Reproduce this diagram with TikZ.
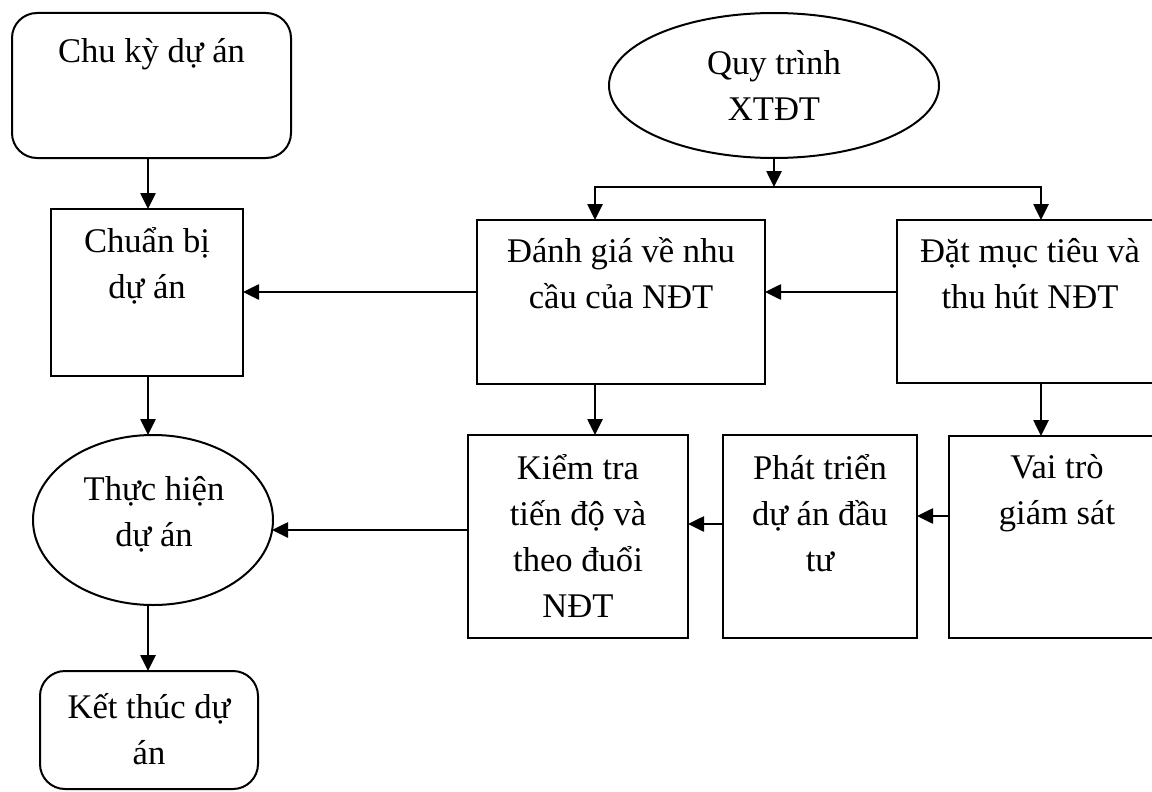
\documentclass[tikz,border=0pt]{standalone}
\usepackage{fontspec}
\setmainfont{Liberation Serif}
\usetikzlibrary{shapes.geometric,arrows.meta}
\newcommand\mystrut{\rule{0pt}{36pt}}
\begin{document}
\begin{tikzpicture}[x=1pt,y=-1pt,
  shp/.style={draw=black,line width=2pt,inner sep=0pt,outer sep=0pt},
  boxn/.style={shp,rectangle},
  rbox/.style={shp,rectangle,rounded corners=25pt},
  ell/.style={shp,ellipse},
  txt/.style={inner sep=0pt,outer sep=0pt,anchor=north,align=center,font=\fontsize{34.6}{46}\selectfont},
  arr/.style={line width=2.6pt,-{Triangle[length=16pt,width=15pt]}}]
\useasboundingbox (0,0) rectangle (1152,792);
\clip (0,0) rectangle (1152,792);

% shapes
\node[rbox,minimum width=279,minimum height=145] (chu) at (151.5,85.5) {};
\node[boxn,minimum width=192,minimum height=167] (prep) at (147,292.5) {};
\node[ell,minimum width=240,minimum height=170] (exec) at (153,520) {};
\node[rbox,minimum width=218,minimum height=118] (end) at (149,730) {};
\node[ell,minimum width=330,minimum height=145] (quy) at (774,85.5) {};
\node[boxn,minimum width=288,minimum height=164] (assess) at (621,302) {};
\node[boxn,minimum width=267,minimum height=163] (goal) at (1030.5,301.5) {};
\node[boxn,minimum width=220,minimum height=203] (check) at (578,536.5) {};
\node[boxn,minimum width=194,minimum height=203] (dev) at (820,536.5) {};
\node[boxn,minimum width=216,minimum height=202] (role) at (1057,537) {};

% texts
\node[txt] (chu-t) at (151.5,27) {\mystrut Chu kỳ dự án};
\node[txt] (prep-t) at (147,216) {\mystrut Chuẩn bị\\dự án};
\node[txt] (exec-t) at (154,464) {\mystrut Thực hiện\\dự án};
\node[txt] (end-t) at (149,682) {\mystrut Kết thúc dự\\án};
\node[txt] (quy-t) at (774,39) {\mystrut Quy trình\\XTĐT};
\node[txt] (assess-t) at (621,226) {\mystrut Đánh giá về nhu\\cầu của NĐT};
\node[txt] (goal-t) at (1030,226) {\mystrut Đặt mục tiêu và\\thu hút NĐT};
\node[txt] (check-t) at (578,443) {\mystrut Kiểm tra\\tiến độ và\\theo đuổi\\NĐT};
\node[txt] (dev-t) at (820,443) {\mystrut Phát triển\\dự án đầu\\tư};
\node[txt] (role-t) at (1057,442) {\mystrut Vai trò\\giám sát};

% helper coordinates
\coordinate (cL) at (148,0);
\coordinate (cA) at (595,0);
\coordinate (cG) at (1041,0);
\coordinate (j) at (774,187);
\coordinate (r1) at (0,292);
\coordinate (r3) at (0,516);
\coordinate (r4) at (0,524);
\coordinate (r5) at (0,530);

% connectors
\draw[arr] (chu.south -| cL) -- (prep.north -| cL);
\draw[arr] (prep.south -| cL) -- (exec.north -| cL);
\draw[arr] (exec.south -| cL) -- (end.north -| cL);
\draw[arr] (quy.south) -- (j);
\draw[arr] (j) -| (assess.north -| cA);
\draw[arr] (j) -| (goal.north -| cG);
\draw[arr] (goal.west |- r1) -- (assess.east |- r1);
\draw[arr] (assess.west |- r1) -- (prep.east |- r1);
\draw[arr] (assess.south -| cA) -- (check.north -| cA);
\draw[arr] (goal.south -| cG) -- (role.north -| cG);
\draw[arr] (role.west |- r3) -- (dev.east |- r3);
\draw[arr] (dev.west |- r4) -- (check.east |- r4);
\draw[arr] (check.west |- r5) -- ([xshift=-1pt]exec.east |- r5);
\end{tikzpicture}
\end{document}
